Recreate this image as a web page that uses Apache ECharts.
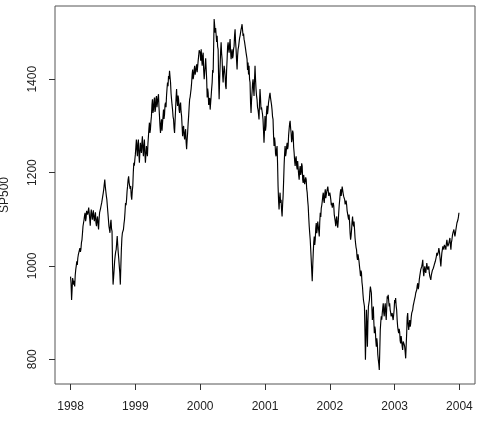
<!DOCTYPE html>
<html>
<head>
<meta charset="utf-8">
<script src="https://cdn.jsdelivr.net/npm/echarts@6/dist/echarts.min.js"></script>
<style>html,body{margin:0;padding:0;background:#fff}#c{width:481px;height:434px}</style>
</head>
<body>
<div id="c"></div>
<script>
const years = [1998, 1999, 2000, 2001, 2002, 2003];
const sp1998 = [977, 962, 927, 950, 974, 968, 960, 968, 956, 980, 992, 1000, 1010, 1002, 1017, 1024, 1028, 1020, 1038, 1030,
  1036, 1050, 1056, 1070, 1085, 1092, 1099, 1108, 1114, 1096, 1103, 1118, 1122, 1110, 1106, 1125, 1128, 1100, 1086, 1110,
  1121, 1108, 1099, 1112, 1119, 1102, 1096, 1108, 1115, 1092, 1085, 1100, 1106, 1090, 1078, 1100, 1114, 1118, 1124, 1130,
  1135, 1142, 1149, 1156, 1164, 1175, 1185, 1170, 1160, 1150, 1142, 1128, 1114, 1100, 1085, 1078, 1071, 1090, 1099, 1080,
  1074, 1000, 960, 975, 992, 1010, 1021, 1030, 1035, 1050, 1064, 1045, 1028, 1015, 999, 985, 960, 1000, 1035, 1060,
  1071, 1068, 1078, 1090, 1099, 1115, 1135, 1130, 1142, 1160, 1171, 1185, 1192, 1178, 1181, 1165, 1171, 1150, 1142, 1160,
  1171, 1200, 1221, 1215, 1228];
const sp1999 = [1239, 1255, 1271, 1250, 1235, 1262, 1271, 1240, 1221, 1245, 1264, 1250, 1242, 1265, 1278, 1250, 1235, 1258, 1271, 1240,
  1221, 1240, 1257, 1245, 1235, 1262, 1278, 1295, 1307, 1285, 1293, 1310, 1321, 1345, 1357, 1328, 1335, 1352, 1361, 1330,
  1335, 1358, 1364, 1340, 1343, 1360, 1368, 1340, 1321, 1300, 1285, 1305, 1314, 1290, 1293, 1320, 1335, 1315, 1324, 1345,
  1350, 1340, 1364, 1380, 1393, 1385, 1407, 1400, 1418, 1405, 1393, 1370, 1357, 1345, 1335, 1320, 1314, 1295, 1285, 1310,
  1335, 1360, 1379, 1355, 1343, 1365, 1357, 1335, 1328, 1345, 1350, 1330, 1321, 1300, 1278, 1295, 1300, 1280, 1271, 1285,
  1293, 1265, 1250, 1270, 1285, 1305, 1321, 1340, 1357, 1362, 1371, 1380, 1393, 1410, 1421, 1400, 1407, 1420, 1429, 1410,
  1407, 1425, 1432, 1415, 1414, 1440, 1450, 1462, 1464];
const sp2000 = [1457, 1440, 1464, 1445, 1429, 1450, 1457, 1420, 1400, 1415, 1429, 1445, 1443, 1400, 1361, 1380, 1371, 1345, 1350, 1360,
  1335, 1350, 1364, 1380, 1393, 1420, 1414, 1470, 1529, 1515, 1500, 1510, 1507, 1480, 1493, 1470, 1464, 1400, 1357, 1400,
  1429, 1460, 1479, 1455, 1443, 1410, 1393, 1415, 1429, 1420, 1407, 1385, 1379, 1420, 1443, 1470, 1479, 1465, 1457, 1475,
  1486, 1460, 1443, 1455, 1464, 1445, 1450, 1465, 1471, 1495, 1507, 1480, 1464, 1440, 1421, 1450, 1464, 1470, 1479, 1488,
  1493, 1500, 1507, 1512, 1518, 1505, 1493, 1498, 1486, 1480, 1479, 1465, 1457, 1450, 1443, 1420, 1436, 1410, 1429, 1400,
  1393, 1350, 1328, 1355, 1371, 1390, 1400, 1380, 1364, 1400, 1429, 1400, 1379, 1365, 1357, 1340, 1335, 1325, 1314, 1350,
  1379, 1360, 1335, 1340, 1343, 1325, 1314, 1290, 1264, 1290];
const sp2001 = [1321, 1290, 1300, 1330, 1343, 1325, 1335, 1350, 1357, 1365, 1371, 1360, 1357, 1345, 1335, 1320, 1314, 1280, 1257, 1275,
  1264, 1240, 1235, 1250, 1257, 1220, 1171, 1140, 1121, 1145, 1157, 1135, 1142, 1120, 1106, 1130, 1149, 1180, 1214, 1240,
  1257, 1235, 1242, 1255, 1264, 1250, 1257, 1280, 1293, 1305, 1311, 1295, 1285, 1265, 1271, 1290, 1285, 1255, 1242, 1225,
  1214, 1230, 1235, 1215, 1207, 1225, 1221, 1195, 1185, 1205, 1214, 1195, 1200, 1220, 1214, 1185, 1178, 1195, 1192, 1175,
  1171, 1190, 1185, 1165, 1157, 1140, 1128, 1105, 1085, 1070, 1056, 1035, 1013, 990, 967, 1000, 1028, 1050, 1063, 1045,
  1056, 1080, 1092, 1070, 1078, 1095, 1099, 1075, 1063, 1095, 1114, 1105, 1124, 1130, 1139, 1150, 1157, 1140, 1135, 1155,
  1164, 1145, 1142, 1160, 1157, 1170, 1167, 1150, 1149];
const sp2002 = [1157, 1150, 1142, 1130, 1135, 1125, 1121, 1135, 1128, 1110, 1114, 1095, 1085, 1100, 1106, 1090, 1082, 1095, 1114, 1130,
  1142, 1155, 1164, 1150, 1160, 1170, 1167, 1155, 1149, 1150, 1142, 1132, 1128, 1140, 1131, 1118, 1114, 1105, 1099, 1110,
  1092, 1070, 1056, 1065, 1078, 1095, 1106, 1090, 1085, 1095, 1078, 1060, 1049, 1040, 1035, 1020, 1013, 1025, 1028, 1010,
  999, 990, 978, 990, 985, 965, 956, 940, 927, 920, 913, 860, 799, 850, 906, 870, 827, 880, 913, 920,
  927, 945, 956, 960, 942, 910, 884, 900, 913, 880, 856, 870, 863, 840, 827, 845, 834, 810, 799, 790,
  777, 820, 863, 880, 892, 885, 899, 910, 920, 900, 892, 910, 920, 900, 884, 910, 935, 930, 938, 925,
  913, 920, 906, 900, 892, 895, 899, 890, 884, 895, 906];
const sp2003 = [927, 920, 931, 915, 906, 885, 870, 862, 856, 865, 859, 840, 834, 850, 848, 828, 820, 838, 842, 832,
  827, 815, 802, 830, 856, 890, 899, 875, 863, 875, 884, 870, 877, 890, 899, 902, 906, 915, 920, 925,
  927, 935, 942, 938, 949, 958, 963, 950, 956, 970, 978, 985, 992, 995, 999, 1005, 1013, 990, 978, 990,
  999, 990, 985, 995, 1006, 998, 992, 996, 999, 985, 978, 975, 970, 980, 985, 990, 992, 995, 999, 1003,
  1006, 1010, 1013, 1020, 1028, 1022, 1021, 1030, 1038, 1032, 1028, 1010, 999, 1015, 1028, 1035, 1042, 1038, 1035, 1045,
  1049, 1040, 1035, 1048, 1056, 1048, 1042, 1046, 1049, 1055, 1060, 1045, 1035, 1050, 1056, 1065, 1071, 1075, 1078, 1070,
  1063, 1070, 1078, 1085, 1092, 1096, 1099, 1105, 1114];
const xTicks = [1998, 1999, 2000, 2001, 2002, 2003, 2004];
const yTicks = [800, 1000, 1200, 1400];

const perYear = [sp1998, sp1999, sp2000, sp2001, sp2002, sp2003];
const points = [];
perYear.forEach((arr, k) => {
  arr.forEach((v, i) => points.push([years[k] + i / arr.length, v]));
});

const font = '"Liberation Sans", Arial, sans-serif';
const chart = echarts.init(document.getElementById('c'), null, {renderer: 'canvas'});
chart.setOption({
  animation: false,
  grid: {left: 55, top: 6, width: 420, height: 378, outerBoundsMode: 'none', containLabel: false,
    show: true, borderColor: '#555', borderWidth: 1, backgroundColor: 'transparent'},
  xAxis: {
    type: 'value', min: 1997.76, max: 2004.24,
    axisLine: {show: false},
    splitLine: {show: false},
    axisTick: {show: true, customValues: xTicks, length: 6, lineStyle: {color: '#333'}},
    axisLabel: {customValues: xTicks, margin: 17, color: '#222', fontSize: 12, fontFamily: font, formatter: v => String(Math.round(v))}
  },
  yAxis: {
    type: 'value', min: 747, max: 1557,
    name: 'SP500', nameLocation: 'middle', nameGap: 44, nameRotate: 90,
    nameTextStyle: {color: '#222', fontSize: 12, fontFamily: font},
    axisLine: {show: false},
    splitLine: {show: false},
    axisTick: {show: true, customValues: yTicks, length: 6, lineStyle: {color: '#333'}},
    axisLabel: {customValues: yTicks, rotate: 90, margin: 16, color: '#222', fontSize: 12, fontFamily: font, formatter: v => String(v)}
  },
  series: [{
    type: 'line', data: points, showSymbol: false, symbol: 'none',
    lineStyle: {color: '#000', width: 1.15}
  }]
});
</script>
</body>
</html>
